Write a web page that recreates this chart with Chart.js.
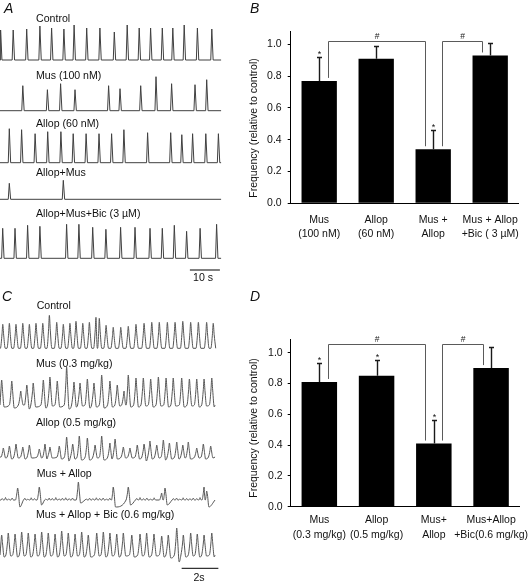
<!DOCTYPE html>
<html><head><meta charset="utf-8">
<script src="https://cdn.jsdelivr.net/npm/chart.js@4.4.1/dist/chart.umd.min.js"></script>
<style>
html,body{margin:0;padding:0;background:#fff;}
body{position:relative;width:529px;height:586px;overflow:hidden;font-family:"Liberation Sans",Arial,Helvetica,sans-serif;color:#111;}
canvas{position:absolute;}
.t{position:absolute;font-size:10.6px;line-height:12px;white-space:nowrap;}
.c{text-align:center;width:40px;}
.p{position:absolute;font-size:14px;line-height:14px;font-style:italic;}
.yt{position:absolute;width:200px;height:12px;line-height:12px;font-size:10.5px;text-align:center;transform:rotate(-90deg);white-space:nowrap;}
</style></head><body>
<canvas id="trA" width="225" height="290" style="left:0;top:0"></canvas>
<canvas id="trC" width="225" height="296" style="left:0;top:290px"></canvas>
<canvas id="barB" width="289" height="250" style="left:240px;top:0"></canvas>
<canvas id="barD" width="289" height="296" style="left:240px;top:290px"></canvas>

<div class="p" style="left:4px;top:1px">A</div>
<div class="p" style="left:250px;top:1px">B</div>
<div class="p" style="left:2px;top:289px">C</div>
<div class="p" style="left:250px;top:289px">D</div>

<div class="t" style="left:36px;top:12px">Control</div>
<div class="t" style="left:36px;top:68.5px">Mus (100 nM)</div>
<div class="t" style="left:36px;top:116.7px">Allop (60 nM)</div>
<div class="t" style="left:36px;top:166px">Allop+Mus</div>
<div class="t" style="left:36px;top:206.5px">Allop+Mus+Bic (3 µM)</div>
<div class="t c" style="left:183px;top:271px">10 s</div>

<div class="t" style="left:36.7px;top:299px">Control</div>
<div class="t" style="left:36px;top:357px">Mus (0.3 mg/kg)</div>
<div class="t" style="left:36px;top:415.7px">Allop (0.5 mg/kg)</div>
<div class="t" style="left:36.7px;top:467.3px">Mus + Allop</div>
<div class="t" style="left:36px;top:508.3px">Mus + Allop + Bic (0.6 mg/kg)</div>
<div class="t c" style="left:179px;top:570.7px">2s</div>

<div class="yt" style="left:153px;top:122px">Frequency (relative to control)</div>
<div class="yt" style="left:153px;top:421.5px">Frequency (relative to control)</div>

<script>
// ---------------- Panel A: spike times (s) and amplitudes (a.u.) ----------------
const aCtrlTimes = [0.2, 4.4, 8.9, 13.3, 17.2, 21.3, 24.7, 28.9, 33.3, 38.1, 42.4, 46.4, 50.2, 54.1, 57.6, 61.4, 65.8, 70.6];
const aCtrlAmps  = [30, 30, 31, 34, 32, 31, 35, 32, 32, 28, 35, 32, 32, 32, 32, 35, 32, 31];
const aMusTimes  = [7.6, 15.8, 20.2, 25.0, 36.2, 40.0, 46.9, 52.0, 57.2, 65.0, 68.9];
const aMusAmps   = [25, 21, 27, 21, 25, 22, 25, 34, 27, 26, 31];
const aAllopTimes = [3.1, 7.2, 11.7, 15.9, 20.3, 24.4, 28.7, 33.0, 37.2, 41.3, 49.2, 56.9, 60.6, 64.2, 68.6, 72.8];
const aAllopAmps  = [34, 33, 29, 31, 31, 29, 29, 29, 29, 33, 30, 30, 28, 29, 29, 29];
const aAllopMusTimes = [3.1, 21.1];
const aAllopMusAmps  = [16, 19];
const aBicTimes = [0.9, 5.0, 9.2, 13.3, 22.2, 26.3, 30.9, 35.3, 40.2, 45.0, 50.0, 54.1, 58.1, 62.2, 66.7, 72.2];
const aBicAmps  = [30, 30, 33, 32, 34, 34, 31, 29, 31, 31, 30, 30, 33, 27, 30, 34];
const aDuration = 73.7;   // s
const aScaleBar = 10;     // s

// ---------------- Panel C: peak times (s), amplitudes and undershoots (a.u.) ----------------
const c1Times = [0.15, 0.51, 0.87, 1.24, 1.60, 1.96, 2.33, 2.69, 3.09, 3.45, 3.81, 4.14, 4.51, 4.87, 5.23, 5.41, 5.78, 6.17, 6.58, 6.99, 7.41, 7.85, 8.27, 8.68, 9.12, 9.54, 9.96, 10.39, 10.81, 11.26, 11.62];
const c1Amps  = [24, 25, 24, 25, 24, 25, 25, 33, 26, 24, 25, 27, 25, 26, 31, 30, 23, 21, 21, 22, 24, 25, 26, 26, 26, 26, 27, 26, 26, 26, 25];
const c2Times = [0.09, 0.64, 1.13, 1.46, 1.81, 2.36, 2.72, 3.12, 3.63, 4.03, 4.36, 4.76, 5.12, 5.54, 5.99, 6.39, 6.76, 6.99, 7.41, 7.81, 8.21, 8.63, 9.05, 9.44, 9.90, 10.32, 10.72, 11.12, 11.54];
const c2Amps  = [25, 24, 14, 20, 22, 25, 28, 24, 38, 23, 22, 26, 22, 30, 24, 20, 14, 30, 27, 27, 26, 28, 27, 27, 27, 26, 26, 26, 27];
const c2Dips  = [2, 3, 0, 4, 2, 3, 1, 2, 4, 2, 1, 3, 2, 3, 2, 1, 0, 2, 2, 1, 2, 1, 2, 1, 2, 1, 2, 1, 2];
const c3Times = [0.18, 0.51, 0.87, 1.24, 1.60, 2.14, 2.45, 2.72, 3.23, 3.63, 3.96, 4.32, 4.76, 5.18, 5.54, 5.99, 6.27, 6.72, 7.08, 7.48, 7.85, 8.17, 8.54, 8.90, 9.23, 9.63, 9.96, 10.26, 10.72, 11.08, 11.48];
const c3Amps  = [9, 11, 13, 10, 12, 8, 13, 10, 11, 20, 13, 21, 19, 12, 21, 14, 18, 10, 9, 12, 13, 16, 12, 17, 14, 15, 12, 15, 9, 13, 11];
const c3Dips  = [1, 2, 1, 2, 1, 1, 2, 1, 2, 4, 2, 3, 3, 1, 3, 2, 2, 1, 1, 2, 4, 2, 1, 3, 2, 2, 1, 2, 1, 2, 1];
const c4Times = [0.96, 2.14, 4.27, 6.17, 6.99, 8.81, 8.99, 11.12, 11.26];
const c4Amps  = [12, 13, 18, 13, 13, 7, 12, 13, 9];
const c4Dips  = [7, 5, 3, 7, 5, 0, 5, 0, 7];
const c4RippleTimes = [0.12, 0.3, 0.47, 0.66, 1.35, 1.52, 1.7, 1.88, 2.5, 2.68, 2.85, 3.04, 3.22, 3.4, 3.58, 3.77, 3.95, 4.7, 4.88, 5.06, 5.25, 5.43, 5.62, 5.8, 5.98, 7.45, 7.63, 7.82, 8.0, 8.2, 8.4, 9.45, 9.62, 9.8, 9.98, 10.17, 10.35, 10.53, 10.72, 10.9];
const c4RippleAmps  = [1.5, 2.5, 1.2, 2.0, 1.8, 1.0, 2.2, 1.5, 1.2, 2.0, 1.6, 2.4, 1.3, 1.8, 2.2, 1.4, 2.0, 1.2, 1.8, 1.4, 2.2, 1.6, 2.0, 1.2, 1.8, 1.6, 2.4, 1.4, 2.0, 1.2, 2.2, 1.5, 2.0, 1.2, 2.2, 1.6, 1.4, 2.0, 1.5, 2.4];
const c5Times = [0.09, 0.45, 0.82, 1.18, 1.54, 1.91, 2.27, 2.63, 3.00, 3.36, 3.72, 4.09, 4.45, 4.81, 5.27, 5.63, 5.99, 6.36, 6.72, 7.18, 7.63, 7.99, 8.39, 8.81, 9.17, 9.63, 9.99, 10.39, 10.75, 11.12, 11.54];
const c5Amps  = [20, 22, 21, 23, 22, 21, 23, 22, 21, 24, 22, 21, 23, 20, 22, 23, 22, 21, 22, 20, 21, 22, 21, 19, 20, 27, 20, 22, 21, 20, 22];
const c5Dips  = [2, 1, 2, 1, 2, 1, 2, 1, 2, 1, 2, 1, 2, 2, 1, 2, 1, 2, 1, 2, 1, 2, 1, 2, 3, 7, 2, 1, 2, 1, 2];
const cDuration = 11.72;  // s
const cScaleBar = 2;      // s

// ---------------- Panels B and D: bar data ----------------
const bCategories = [["Mus", "(100 nM)"], ["Allop", "(60 nM)"], ["Mus +", "Allop"], ["Mus + Allop", "+Bic ( 3 µM)"]];
const bMeans  = [0.77, 0.91, 0.34, 0.93];
const bErrors = [0.15, 0.08, 0.12, 0.08];
const bStars  = [true, false, true, false];
const bBrackets = [[0, 2], [2, 3]];
const dCategories = [["Mus", "(0.3 mg/kg)"], ["Allop", "(0.5 mg/kg)"], ["Mus+", "Allop"], ["Mus+Allop", "+Bic(0.6 mg/kg)"]];
const dMeans  = [0.81, 0.85, 0.41, 0.90];
const dErrors = [0.12, 0.10, 0.15, 0.14];
const dStars  = [true, true, true, false];
const dBrackets = [[0, 2], [2, 3]];
const yTicks = [0, 0.2, 0.4, 0.6, 0.8, 1.0];

Chart.defaults.font.family = '"Liberation Sans", Arial, Helvetica, sans-serif';
Chart.defaults.color = '#111';

// ---- waveform helpers (shape only; times/amplitudes come from the arrays) ----
function spikes(times, amps, base, tEnd) {
  const pts = [{x: 0, y: base}];
  times.forEach((t, i) => {
    const a = Math.max(0, t - 0.35);
    if (a > pts[pts.length - 1].x) pts.push({x: a, y: base});
    pts.push({x: t, y: base - amps[i]});
    pts.push({x: t + 0.45, y: base});
  });
  pts.push({x: tEnd, y: base});
  return pts;
}
function evts(times, amps, dips, w) {
  return times.map((t, i) => ({t, h: amps[i], d: dips ? dips[i] : 0, w}));
}
function wave(list, base, tEnd) {
  const e = list.slice().sort((a, b) => a.t - b.t);
  const pts = [{x: 0, y: base}];
  e.forEach((ev, i) => {
    const prev = i ? e[i - 1].t : -10, next = i < e.length - 1 ? e[i + 1].t : tEnd + 10;
    const wl = Math.min(ev.w, (ev.t - prev) / 2), wr = Math.min(ev.w * 1.3, (next - ev.t) / 2);
    [[ev.t - wl, 0], [ev.t - wl * 0.3, ev.h * 0.6], [ev.t, ev.h], [ev.t + wr * 0.3, ev.h * 0.55], [ev.t + wr * 0.8, -ev.d]]
      .forEach(([x, v]) => { if (x > pts[pts.length - 1].x) pts.push({x, y: base - v}); });
  });
  if (tEnd > pts[pts.length - 1].x) pts.push({x: tEnd, y: base});
  return pts;
}
function ds(data, color, mode) {
  return {data, borderColor: color, borderWidth: 1, pointRadius: 0, fill: false,
          tension: mode ? 0.4 : 0, cubicInterpolationMode: mode ? 'monotone' : 'default'};
}
function traceChart(id, datasets, xmax, ymax) {
  return new Chart(document.getElementById(id), {
    type: 'line',
    data: {datasets},
    options: {
      responsive: false, animation: false, devicePixelRatio: 1, events: [],
      layout: {padding: 0},
      plugins: {legend: {display: false}, tooltip: {enabled: false}},
      scales: {
        x: {type: 'linear', min: 0, max: xmax, display: false},
        y: {type: 'linear', min: 0, max: ymax, reverse: true, display: false}
      }
    }
  });
}

// Panel A (3 px per second, baselines in canvas units)
const TA = '#404040';
traceChart('trA', [
  ds(spikes(aCtrlTimes, aCtrlAmps, 60, aDuration), TA),
  ds(spikes(aMusTimes, aMusAmps, 110.7, aDuration), TA),
  ds(spikes(aAllopTimes, aAllopAmps, 162.7, aDuration), TA),
  ds(spikes(aAllopMusTimes, aAllopMusAmps, 199.3, aDuration), TA),
  ds(spikes(aBicTimes, aBicAmps, 258.3, aDuration), TA),
  ds([{x: aDuration - 0.4 - aScaleBar, y: 270}, {x: aDuration - 0.4, y: 270}], '#000')
], 75, 290);

// Panel C (18.35 px per second)
const TC = '#555555';
traceChart('trC', [
  ds(wave(evts(c1Times, c1Amps, null, 0.13), 58.3, cDuration), TC, true),
  ds(wave(evts(c2Times, c2Amps, c2Dips, 0.13), 115, cDuration), TC, true),
  ds(wave(evts(c3Times, c3Amps, c3Dips, 0.12), 167, cDuration), TC, true),
  ds(wave(evts(c4Times, c4Amps, c4Dips, 0.12).concat(evts(c4RippleTimes, c4RippleAmps, null, 0.07)), 210, cDuration), TC, true),
  ds(wave(evts(c5Times, c5Amps, c5Dips, 0.13), 265, cDuration), TC, true),
  ds([{x: 9.9, y: 278.3}, {x: 9.9 + cScaleBar, y: 278.3}], '#000')
], 225 / 18.35, 296);

// ---- bar annotations: error bars, asterisks, brackets ----
const annot = {
  id: 'annot',
  afterDatasetsDraw(chart, _a, o) {
    const ctx = chart.ctx, y = chart.scales.y, meta = chart.getDatasetMeta(0);
    const means = chart.data.datasets[0].data;
    ctx.save();
    means.forEach((m, i) => {
      const x = Math.round(meta.data[i].x) + 0.5;
      const y0 = y.getPixelForValue(m), y1 = Math.round(y.getPixelForValue(m + o.errs[i])) + 0.5;
      ctx.strokeStyle = '#1a1a1a'; ctx.lineWidth = 1.4;
      ctx.beginPath(); ctx.moveTo(x, y0); ctx.lineTo(x, y1); ctx.moveTo(x - 2.5, y1); ctx.lineTo(x + 2.5, y1); ctx.stroke();
      if (o.stars[i]) {
        ctx.fillStyle = '#111'; ctx.font = '9px "Liberation Sans", Arial'; ctx.textAlign = 'center'; ctx.textBaseline = 'alphabetic';
        ctx.fillText('*', x, y1 - 1);
      }
    });
    const yl = Math.round(y.getPixelForValue(o.level)) + 0.5;
    o.brackets.forEach(([i, j]) => {
      const xi = Math.round(meta.data[i].x + 8.5) + 0.5, xj = Math.round(meta.data[j].x - 8.5) + 0.5;
      const yi = y.getPixelForValue(means[i]) - 3, yj = y.getPixelForValue(means[j]) - 3;
      ctx.strokeStyle = '#5a5a5a'; ctx.lineWidth = 1;
      ctx.beginPath(); ctx.moveTo(xi, yi); ctx.lineTo(xi, yl); ctx.lineTo(xj, yl); ctx.lineTo(xj, yj); ctx.stroke();
      ctx.fillStyle = '#222'; ctx.font = '8.5px "Liberation Sans", Arial'; ctx.textAlign = 'center'; ctx.textBaseline = 'alphabetic';
      ctx.fillText('#', (xi + xj) / 2, yl - 3);
    });
    ctx.restore();
  }
};

function barChart(id, cats, means, errs, stars, brackets, cfg) {
  return new Chart(document.getElementById(id), {
    type: 'bar',
    data: {labels: cats, datasets: [{data: means, backgroundColor: '#000', borderWidth: 0, barPercentage: 0.62, categoryPercentage: 1}]},
    options: {
      responsive: false, animation: false, devicePixelRatio: 1, events: [],
      layout: {padding: {top: cfg.top, right: cfg.right, left: 0, bottom: 0}},
      plugins: {legend: {display: false}, tooltip: {enabled: false}, annot: {errs, stars, brackets, level: cfg.level}},
      scales: {
        x: {
          grid: {display: false, drawTicks: false},
          border: {display: true, color: '#000', width: 1},
          ticks: {color: '#111', font: {size: 10.5, lineHeight: cfg.lh}, padding: cfg.xpad, maxRotation: 0, minRotation: 0, autoSkip: false},
          afterFit: s => { s.height = cfg.xh; s.paddingLeft = 0; s.paddingRight = 0; }
        },
        y: {
          min: 0, max: cfg.ymax, bounds: 'data',
          grid: {display: true, drawOnChartArea: false, drawTicks: true, tickLength: 3, color: '#000'},
          border: {display: true, color: '#000', width: 1},
          ticks: {color: '#111', font: {size: 10.5}, padding: cfg.ypad, callback: v => Number(v).toFixed(1)},
          afterBuildTicks: s => { s.ticks = yTicks.map(v => ({value: v})); },
          afterFit: s => { s.width = 50.7; s.paddingTop = 0; s.paddingBottom = 0; }
        }
      }
    },
    plugins: [annot]
  });
}

barChart('barB', bCategories, bMeans, bErrors, bStars, bBrackets,
  {top: 31, right: 10.3, ymax: 1.084, xh: 46.7, lh: 1.333, xpad: 9.7, ypad: 6, level: 1.023});
barChart('barD', dCategories, dMeans, dErrors, dStars, dBrackets,
  {top: 49.3, right: 9.3, ymax: 1.087, xh: 79.3, lh: 1.43, xpad: 5.8, ypad: 5, level: 1.056});
</script>
</body></html>
